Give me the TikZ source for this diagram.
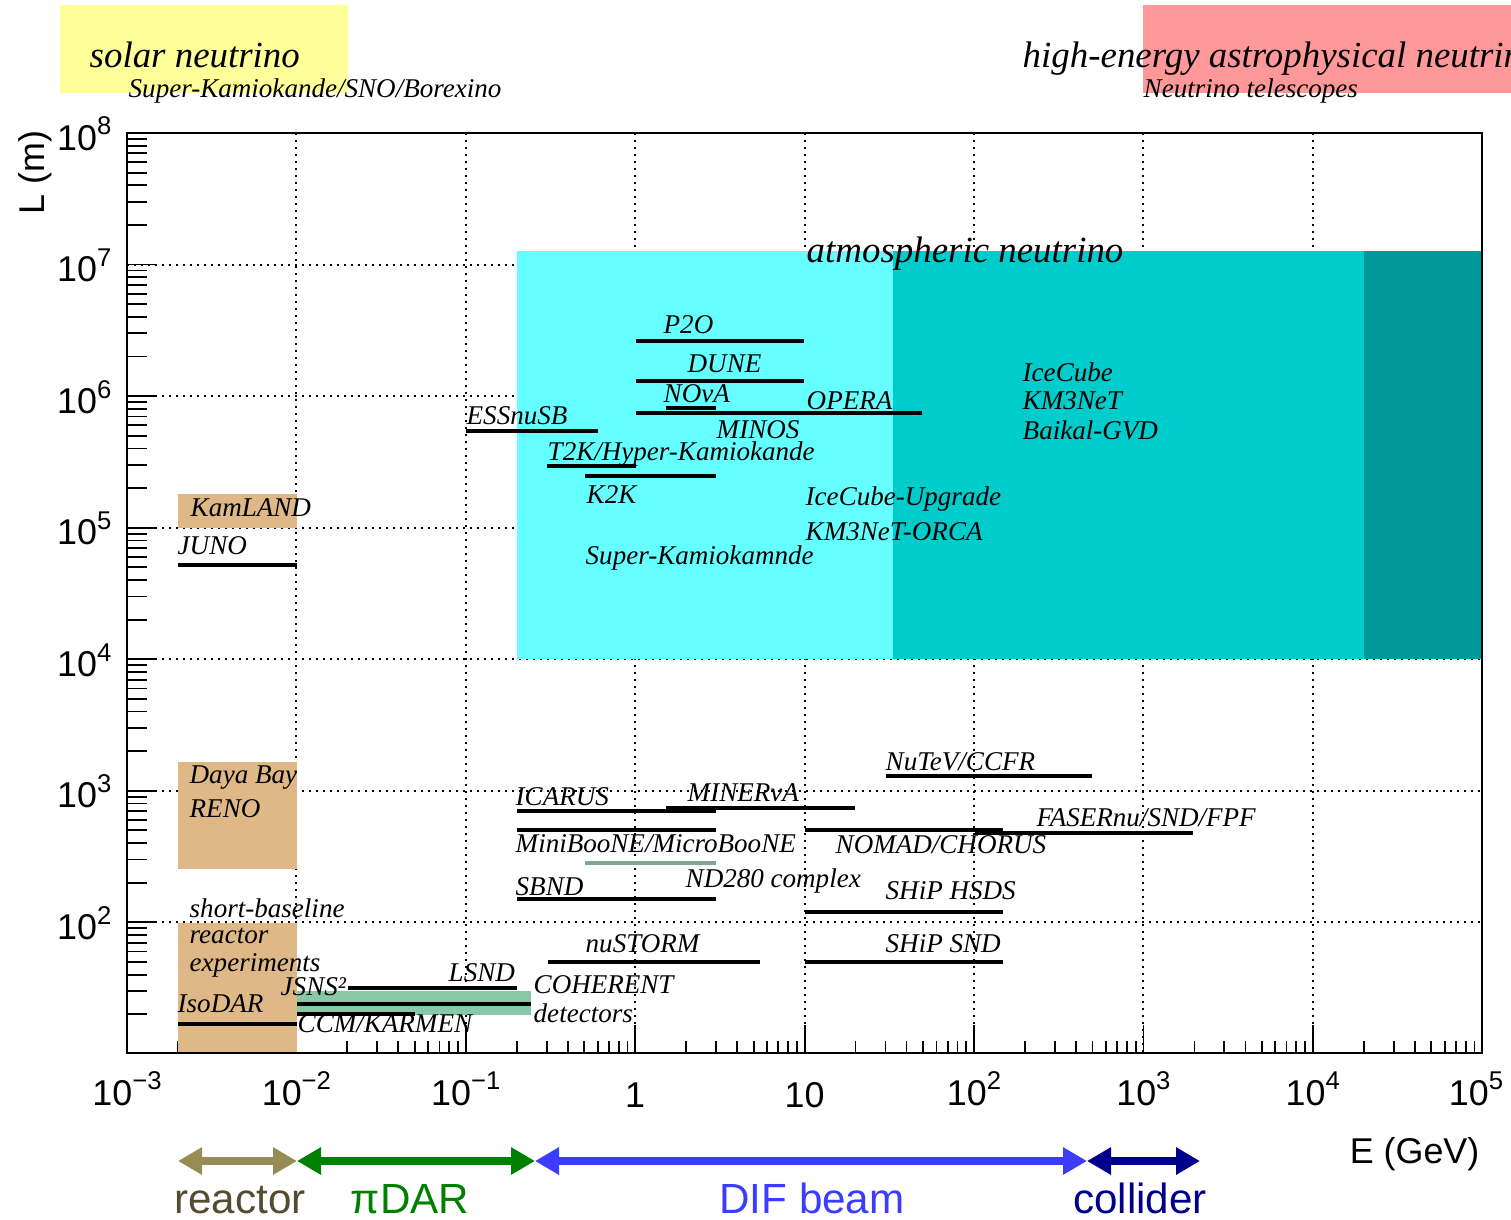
\documentclass[tikz,border=0pt]{standalone}
\usepackage{fontspec}
\usepackage{graphicx}
\setmainfont{Liberation Serif}
\newfontfamily\hel{Liberation Sans}
\usetikzlibrary{arrows.meta}
\definecolor{solarY}{RGB}{255,255,153}
\definecolor{hePink}{RGB}{255,153,153}
\definecolor{atmA}{RGB}{102,255,255}
\definecolor{atmB}{RGB}{0,204,204}
\definecolor{atmC}{RGB}{0,153,153}
\definecolor{tanbox}{RGB}{222,184,135}
\definecolor{coh}{RGB}{136,200,166}
\definecolor{ndg}{RGB}{128,166,148}
\definecolor{reacA}{RGB}{152,140,86}
\definecolor{reacT}{RGB}{84,76,48}
\definecolor{dargreen}{RGB}{0,128,0}
\definecolor{difblue}{RGB}{60,60,255}
\definecolor{colnavy}{RGB}{0,0,140}
\newcommand\fbig{\fontsize{10.5pt}{12pt}\selectfont}
\newcommand\fexp{\fontsize{7.7pt}{9pt}\selectfont}
\newcommand\fax{\fontsize{10.2pt}{12pt}\selectfont}
\newcommand\farr{\fontsize{12pt}{14pt}\selectfont}
\newcommand\pw[1]{\raisebox{0.42em}{\fontsize{7.3pt}{8pt}\selectfont #1}}
\tikzset{
  lab/.style={anchor=base west, inner sep=0, font=\fexp\itshape},
  big/.style={anchor=base west, inner sep=0, font=\fbig\itshape},
  expline/.style={line width=0.42mm},
  gridline/.style={line width=0.2mm, dash pattern=on 0.2mm off 0.5mm},
  tickmark/.style={line width=0.18mm},
  axlab/.style={inner sep=0, font=\fax\hel},
  arrlab/.style={inner sep=0, anchor=base, font=\farr\hel},
  rng/.style={line width=0.8mm, {Triangle[length=2.4mm,width=2.6mm]}-{Triangle[length=2.4mm,width=2.6mm]}},
}
\begin{document}
\begin{tikzpicture}[x=0.1mm,y=-0.1mm]
\useasboundingbox (0,0) rectangle (1511,1219);
\fill[white] (0,0) rectangle (1511,1219);

% top bands
\fill[solarY] (60,5) rectangle (348,93);
\fill[hePink] (1143,5) rectangle (1511,93);
\node[big] (solar) at (89,67) {solar neutrino};
\node[lab] (solarexp) at (128,97) {Super-Kamiokande/SNO/Borexino};
\begin{scope}
  \clip (0,0) rectangle (1511,1219);
  \node[big] (heastro) at (1022,67) {high-energy astrophysical neutrino};
\end{scope}
\node[lab] (nutel) at (1143,97) {Neutrino telescopes};

% ticks
\foreach \d in {-3,...,4}{
  \foreach \m in {2,...,9}{
    \pgfmathsetmacro\xx{127+169.4*(\d+log10(\m)+3)}
    \draw[tickmark] (\xx,1053) -- (\xx,1041);
  }
}
\foreach \d in {-2,...,4}{
  \pgfmathsetmacro\xx{127+169.4*(\d+3)}
  \draw[tickmark] (\xx,1053) -- (\xx,1025);
}
\foreach \d in {1,...,7}{
  \foreach \m in {2,...,9}{
    \pgfmathsetmacro\yy{133+131.55*(8-\d-log10(\m))}
    \draw[tickmark] (127,\yy) -- (147,\yy);
  }
}
\foreach \d in {2,...,7}{
  \pgfmathsetmacro\yy{133+131.55*(8-\d)}
  \draw[tickmark] (127,\yy) -- (157,\yy);
}

% grid
\foreach \d in {-2,...,4}{
  \pgfmathsetmacro\xx{127+169.4*(\d+3)}
  \draw[gridline] (\xx,133) -- (\xx,1053);
}
\foreach \d in {2,...,7}{
  \pgfmathsetmacro\yy{133+131.55*(8-\d)}
  \draw[gridline] (127,\yy) -- (1482,\yy);
}

% atmospheric region
\fill[atmA] (517,251) rectangle (893,659);
\fill[atmB] (893,251) rectangle (1364,659);
\fill[atmC] (1364,251) rectangle (1482,659);

% reactor boxes
\fill[tanbox] (178,494) rectangle (297,528);
\fill[tanbox] (178,762) rectangle (297,869);
\fill[tanbox] (178,923) rectangle (297,1053);

% COHERENT band
\fill[coh] (297,991) rectangle (531,1015);

% experiment lines
\draw[expline] (636,341) -- (804,341);
\draw[expline] (636,381) -- (804,381);
\draw[expline] (666,408) -- (716,408);
\draw[expline] (636,413) -- (922,413);
\draw[expline] (466,431) -- (598,431);
\draw[expline] (547,466) -- (636,466);
\draw[expline] (585,476) -- (716,476);
\draw[expline] (178,565) -- (297,565);
\draw[expline] (886,776) -- (1092,776);
\draw[expline] (666,808) -- (855,808);
\draw[expline] (517,811) -- (716,811);
\draw[expline] (517,830) -- (716,830);
\draw[expline] (805,830) -- (1003,830);
\draw[expline] (975,833) -- (1193,833);
\draw[expline, ndg] (585,863) -- (716,863);
\draw[expline] (517,899) -- (716,899);
\draw[expline] (805,912) -- (1003,912);
\draw[expline] (548,962) -- (760,962);
\draw[expline] (805,962) -- (1003,962);
\draw[expline] (348,988) -- (517,988);
\draw[expline] (297,1004) -- (531,1004);
\draw[expline] (297,1014) -- (415,1014);
\draw[expline] (178,1024) -- (297,1024);

% labels
\node[big] (atm) at (806,262) {atmospheric neutrino};
\node[lab] (p2o) at (663,333) {P2O};
\node[lab] (dune) at (687,372) {DUNE};
\node[lab] (nova) at (663,402) {NOvA};
\node[lab] (opera) at (806,409) {OPERA};
\node[lab] (ess) at (466,424) {ESSnuSB};
\node[lab] (minos) at (716,438) {MINOS};
\node[lab] (t2k) at (547,460) {T2K/Hyper-Kamiokande};
\node[lab] (k2k) at (586,503) {K2K};
\node[lab] (icu) at (805,505) {IceCube-Upgrade};
\node[lab] (orca) at (805,540) {KM3NeT-ORCA};
\node[lab] (sk) at (585,564) {Super-Kamiokamnde};
\node[lab] (ic) at (1022,381) {IceCube};
\node[lab] (km3) at (1022,409) {KM3NeT};
\node[lab] (gvd) at (1022,439) {Baikal-GVD};
\node[lab] (kam) at (190,516) {KamLAND};
\node[lab] (juno) at (177,554) {JUNO};
\node[lab] (daya) at (189,783) {Daya Bay};
\node[lab] (reno) at (189,817) {RENO};
\node[lab] (nutev) at (885,770) {NuTeV/CCFR};
\node[lab] (icarus) at (515,805) {ICARUS};
\node[lab] (minerva) at (687,801) {MINERvA};
\node[lab] (faser) at (1036,826) {FASERnu/SND/FPF};
\node[lab] (mini) at (515,852) {MiniBooNE/MicroBooNE};
\node[lab] (nomad) at (835,853) {NOMAD/CHORUS};
\node[lab] (nd280) at (685,887) {ND280 complex};
\node[lab] (sbnd) at (515,895) {SBND};
\node[lab] (hsds) at (885,899) {SHiP HSDS};
\node[lab] (sbl1) at (189,917) {short-baseline};
\node[lab] (sbl2) at (189,943) {reactor};
\node[lab] (sbl3) at (189,971) {experiments};
\node[lab] (nustorm) at (585,952) {nuSTORM};
\node[lab] (snd) at (885,952) {SHiP SND};
\node[lab] (lsnd) at (448,981) {LSND};
\node[lab] (coh1) at (533,993) {COHERENT};
\node[lab] (jsns) at (280,995) {JSNS²};
\node[lab] (isodar) at (177,1012) {IsoDAR};
\node[lab] (coh2) at (533,1022) {detectors};
\node[lab] (ccm) at (297,1032) {CCM/KARMEN};

% frame
\draw[line width=0.22mm] (127,133) rectangle (1482,1053);

% axis labels
\node[axlab, anchor=base] (xm3) at (127,1105) {10\pw{−3}};
\node[axlab, anchor=base] (xm2) at (296.4,1105) {10\pw{−2}};
\node[axlab, anchor=base] (xm1) at (465.8,1105) {10\pw{−1}};
\node[axlab, anchor=base] (x0) at (635.2,1107) {1};
\node[axlab, anchor=base] (x1) at (804.6,1107) {10};
\node[axlab, anchor=base] (x2) at (974,1105) {10\pw{2}};
\node[axlab, anchor=base] (x3) at (1143.4,1105) {10\pw{3}};
\node[axlab, anchor=base] (x4) at (1312.8,1105) {10\pw{4}};
\node[axlab, anchor=base] (x5) at (1476,1105) {10\pw{5}};
\foreach \d in {2,...,8}{
  \pgfmathsetmacro\yy{133+131.55*(8-\d)+17}
  \node[axlab, anchor=base east] (y\d) at (112,\yy) {10\pw{\d}};
}
\node[axlab, anchor=base east, rotate=90] (ylab) at (45,130) {L (m)};
\node[axlab, anchor=base east] (xlab) at (1480,1163) {E (GeV)};

% range arrows
\coordinate (r0) at (178,1161);
\coordinate (r1) at (297,1161);
\coordinate (r2) at (535,1161);
\coordinate (r3) at (1087,1161);
\coordinate (r4) at (1200,1161);
\draw[rng, reacA] (r0) -- (r1);
\draw[rng, dargreen] (r1) -- (r2);
\draw[rng, difblue] (r2) -- (r3);
\draw[rng, colnavy] (r3) -- (r4);
\node[arrlab, reacT] (lreac) at (240,1213) {reactor};
\node[arrlab, dargreen] (ldar) at (410,1213) {πDAR};
\node[arrlab, difblue] (ldif) at (812,1213) {DIF beam};
\node[arrlab, colnavy] (lcol) at (1140,1213) {collider};
\end{tikzpicture}
\end{document}
